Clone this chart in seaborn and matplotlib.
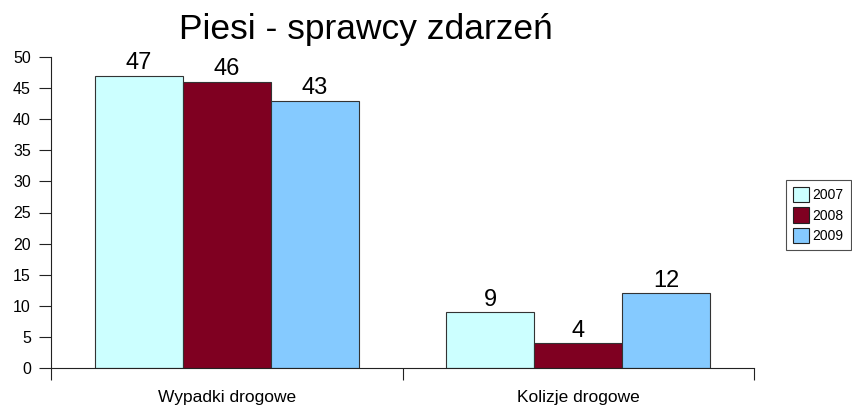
import matplotlib
matplotlib.use("Agg")
import matplotlib.pyplot as plt
import seaborn as sns
import pandas as pd
from matplotlib.patches import Patch

categories = ["Wypadki drogowe", "Kolizje drogowe"]
years = ["2007", "2008", "2009"]
values_2007 = [47, 9]
values_2008 = [46, 4]
values_2009 = [43, 12]
title = "Piesi - sprawcy zdarzeń"
colors = ["#CCFFFF", "#7F0021", "#85CAFF"]

rows = []
for yr, vals in zip(years, [values_2007, values_2008, values_2009]):
    for c, v in zip(categories, vals):
        rows.append({"cat": c, "year": yr, "val": v})
df = pd.DataFrame(rows)

sns.set_style("white")
plt.rcParams["font.family"] = ["Liberation Sans", "DejaVu Sans"]
plt.rcParams["text.color"] = "black"
plt.rcParams["xtick.color"] = "black"
plt.rcParams["ytick.color"] = "black"

fig = plt.figure(figsize=(8.52, 4.05), dpi=100)
ax = fig.add_axes([51/852, 37/405, (754-51)/852, (368-57)/405])

sns.barplot(data=df, x="cat", y="val", hue="year", order=categories, hue_order=years,
            palette=colors, width=0.75, ax=ax, edgecolor="#333333", linewidth=0.8,
            saturation=1, legend=False, errorbar=None)

for cont in ax.containers:
    ax.bar_label(cont, fontsize=17, padding=1, color="black")

ax.set_ylim(0, 50)
ax.set_xlim(-0.5, 1.5)
ax.set_yticks(range(0, 51, 5))
ax.set_xlabel("")
ax.set_ylabel("")
ax.set_xticks([0, 1])
ax.set_xticklabels(categories, fontsize=12.5)
ax.set_xticks([-0.5, 0.5, 1.5], minor=True)
ax.tick_params(axis="x", which="major", bottom=True, length=0, pad=16, labelcolor="black")
ax.tick_params(axis="x", which="minor", bottom=True, length=8.5, width=0.8, color="#222222", direction="out")
ax.tick_params(axis="y", left=True, length=8.5, width=0.8, color="#222222", direction="out",
               labelsize=11.5, pad=6, labelcolor="black")
for s in ["top", "right"]:
    ax.spines[s].set_visible(False)
for s in ["left", "bottom"]:
    ax.spines[s].set_color("#222222")
    ax.spines[s].set_linewidth(0.8)

fig.text(366/852, 1 - 30/405, title, fontsize=25.5, ha="center", va="center", color="black")

handles = [Patch(facecolor=c, edgecolor="#222222", linewidth=0.8, label=y) for c, y in zip(colors, years)]
leg = fig.legend(handles=handles, loc="center", bbox_to_anchor=(818.5/852, 1 - 215/405),
                 frameon=True, fancybox=False, edgecolor="#222222", fontsize=10,
                 handlelength=1.15, handleheight=1.3, handletextpad=0.25, borderpad=0.5,
                 labelspacing=0.4, borderaxespad=0, labelcolor="black")
leg.get_frame().set_linewidth(0.8)

fig.savefig("out.png", dpi=100)
